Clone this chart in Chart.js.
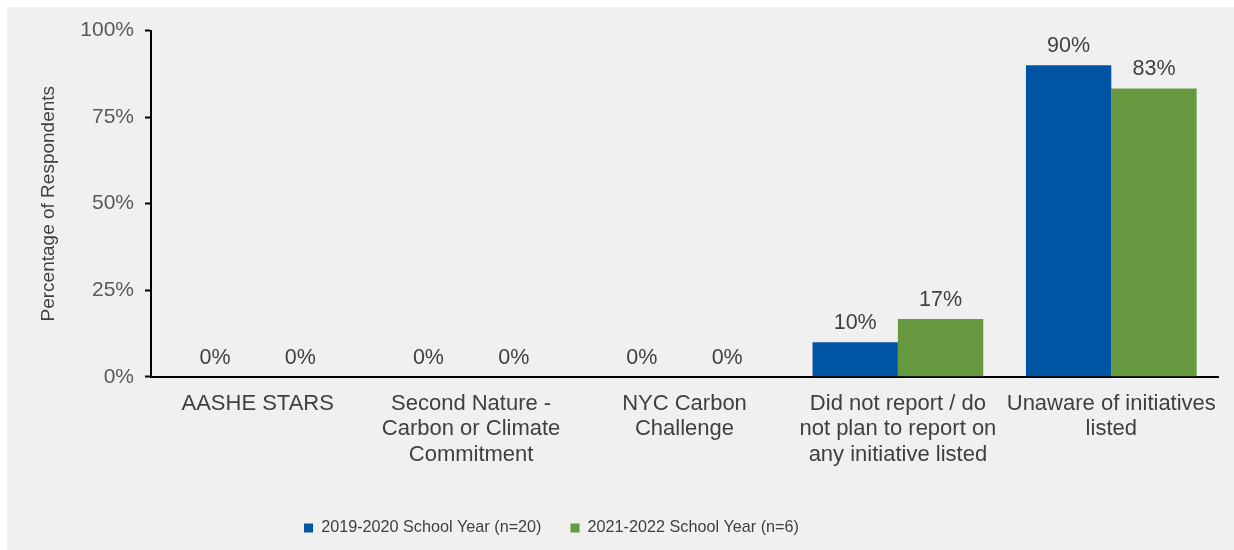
<!DOCTYPE html>
<html>
<head>
<meta charset="utf-8">
<script src="https://cdn.jsdelivr.net/npm/chart.js@4/dist/chart.umd.min.js"></script>
<style>
  html, body { margin: 0; padding: 0; background: #ffffff; overflow: hidden; width: 1234px; height: 550px; }
  #wrap { position: absolute; left: 7px; top: 7px; width: 1227px; height: 543px; background: #f0f0f0; }
  canvas { display: block; }
</style>
</head>
<body>
<div id="wrap"><canvas id="c"></canvas></div>
<script>
const categories = [
  "AASHE STARS",
  ["Second Nature -", "Carbon or Climate", "Commitment"],
  ["NYC Carbon", "Challenge"],
  ["Did not report / do", "not plan to report on", "any initiative listed"],
  ["Unaware of initiatives", "listed"]
];
const seriesNames = ["2019-2020 School Year (n=20)", "2021-2022 School Year (n=6)"];
const values2019 = [0, 0, 0, 10, 90];
const values2021 = [0, 0, 0, 16.7, 83.3];
const yTicks = [0, 25, 50, 75, 100];
const yTitle = "Percentage of Respondents";

const FONT = "'Liberation Sans', Arial, sans-serif";

const dataLabels = {
  id: 'dataLabels',
  afterDatasetsDraw(chart) {
    const ctx = chart.ctx;
    ctx.save();
    ctx.font = "21.5px " + FONT;
    ctx.fillStyle = "#404040";
    ctx.textAlign = "center";
    ctx.textBaseline = "alphabetic";
    chart.data.datasets.forEach((ds, i) => {
      const meta = chart.getDatasetMeta(i);
      meta.data.forEach((bar, j) => {
        ctx.fillText(Math.round(ds.data[j]) + "%", bar.x, bar.y - 13);
      });
    });
    ctx.restore();
  }
};

// shift the legend row left, as in the reference
const legendShift = {
  id: 'legendShift',
  afterLayout(chart) {
    if (chart.legend) { chart.legend.left -= 61; chart.legend.right -= 61; }
  }
};

new Chart(document.getElementById('c'), {
  type: 'bar',
  data: {
    labels: categories,
    datasets: [
      { label: seriesNames[0], data: values2019, backgroundColor: '#0054a4', borderWidth: 0 },
      { label: seriesNames[1], data: values2021, backgroundColor: '#679a40', borderWidth: 0 }
    ]
  },
  options: {
    responsive: true,
    maintainAspectRatio: false,
    animation: false,
    layout: { padding: { top: 22, right: 16, bottom: 4, left: 0 } },
    datasets: { bar: { barPercentage: 1.0, categoryPercentage: 0.8 } },
    plugins: {
      tooltip: { enabled: false },
      legend: {
        position: 'bottom',
        labels: {
          boxWidth: 9, boxHeight: 9, padding: 29,
          color: '#404040',
          font: { family: FONT, size: 16.2 }
        }
      }
    },
    scales: {
      x: {
        grid: { display: false, drawTicks: false },
        border: { display: true, color: '#000000', width: 2 },
        ticks: { color: '#404040', font: { family: FONT, size: 22, lineHeight: 1.14 }, padding: 15, maxRotation: 0, autoSkip: false },
        afterFit(scale) { scale.height = 114; }
      },
      y: {
        min: 0, max: 100,
        afterBuildTicks(scale) { scale.ticks = yTicks.map(v => ({ value: v })); },
        grid: { drawOnChartArea: false, drawTicks: true, tickLength: 6, tickColor: '#000000', tickWidth: 2 },
        border: { display: true, color: '#000000', width: 2 },
        ticks: { color: '#595959', font: { family: FONT, size: 21 }, padding: 11, callback: v => v + '%' },
        title: { display: true, text: yTitle, color: '#404040', font: { family: FONT, size: 19 }, padding: { top: 30, bottom: 0 } },
        afterFit(scale) { scale.width = 144; }
      }
    }
  },
  plugins: [dataLabels, legendShift]
});
</script>
</body>
</html>
